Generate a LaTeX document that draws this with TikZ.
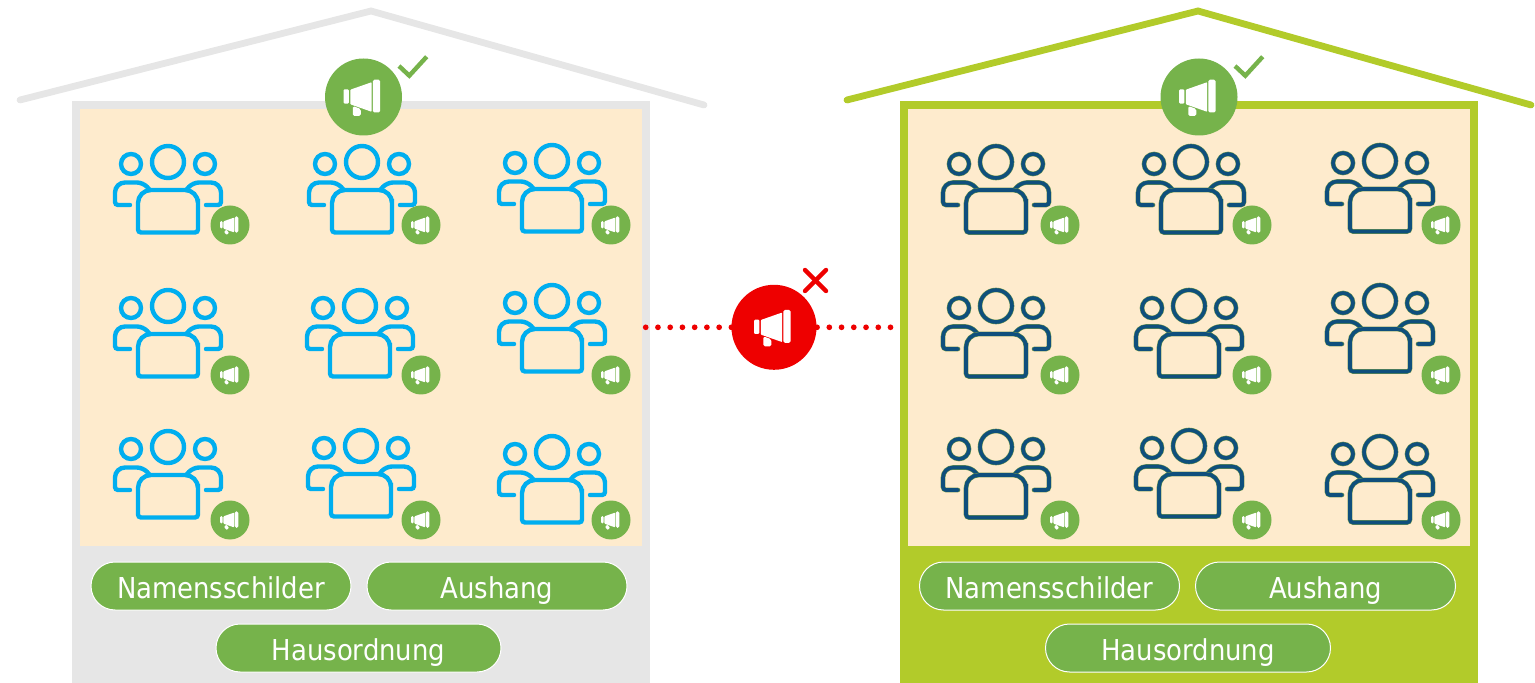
\documentclass[tikz,border=0pt]{standalone}
\usepackage{fontspec}
\setmainfont{DejaVu Sans Condensed}
\definecolor{grayhouse}{HTML}{E6E6E6}
\definecolor{greenhouse}{HTML}{B2CB2A}
\definecolor{cream}{HTML}{FEEBCD}
\definecolor{badgegreen}{HTML}{76B34B}
\definecolor{alertred}{HTML}{EE0000}
\definecolor{peopleblue}{HTML}{00AEEF}
\definecolor{peopledark}{HTML}{0F4F7C}
\tikzset{
    wall/.style={draw=none,minimum width=289pt,minimum height=291pt,anchor=north west,inner sep=0pt},
    inner/.style={fill=cream,draw=none,minimum width=281pt,minimum height=218.5pt,anchor=north west,inner sep=0pt},
    roof/.style={line width=3.4pt,line cap=round,line join=miter},
    badge/.style={circle,fill=badgegreen,minimum size=#1,inner sep=0pt},
    tag/.style={draw=white,line width=.5pt,fill=badgegreen,text=white,rounded corners=12pt,minimum height=24pt,inner sep=0pt,text height=12pt,text depth=0pt,font=\fontsize{14.4}{16}\selectfont},
    blueline/.style={draw=peopleblue,line width=2.2pt},
    darkline/.style={draw=greenhouse!55!peopledark,line width=.25pt,double=peopledark,double distance=1.8pt},
    megaphone/.pic={
        \fill[white,rounded corners=.6pt](-20,-7.7)rectangle(-14.6,6.7);
        \fill[white,rounded corners=.4pt](-13.2,-7.3)--(8.2,-14.8)--(8.2,14.8)--(-13.2,7.3)--cycle;
        \fill[white,rounded corners=.8pt](9.3,-17.3)rectangle(16.7,15.5);
        \fill[white,rounded corners=.8pt](-10.7,9)--(-2.7,12)--(-2.7,19)--(-10.7,19)--cycle;
    },
    people/.pic={
        \draw[pic actions](0,0)circle[radius=16];
        \draw[pic actions](-37,2)circle[radius=10];
        \draw[pic actions](37,2)circle[radius=10];
        \draw[pic actions,line cap=round](-38,43)[rounded corners=1.5pt]--(-53,43)[rounded corners=5pt]--(-53,20.5)[rounded corners=3pt]--(-25,20.5)--(-19,27);
        \draw[pic actions,line cap=round](38,43)[rounded corners=1.5pt]--(53,43)[rounded corners=5pt]--(53,20.5)[rounded corners=3pt]--(25,20.5)--(19,27);
        \draw[pic actions](-30,50)[rounded corners=6.5pt]--(-30,28)--(30,28)--(30,50)[rounded corners=1.5pt]--(30,70.5)--(-30,70.5)--cycle;
    }
}
\begin{document}
\begin{tikzpicture}[x=.5pt,y=-.5pt]
    \useasboundingbox(0,0)rectangle(1535,683);
    % gray house
    \node[wall,fill=grayhouse](wallA)at(72,101){};
    \node[inner](innerA)at(80,109){};
    \draw[roof,grayhouse](20,100)--(371,11)--(704,105);
    % green house
    \node[wall,fill=greenhouse](wallB)at(900,101){};
    \node[inner](innerB)at(908,109){};
    \draw[roof,greenhouse](847,100)--(1198,11)--(1531,105);
    % residents
    \foreach \x/\y/\bx/\by[count=\i] in {168/162/230/225,362/162/421/225,552/161/611/225,168/306/230/375,360/306/421/375,552/301/611/375,168/447/230/520,361/446/421/520,552/452/611/520}{
        \pic[blueline]at(\x,\y){people};
        \node[badge=19.5pt](smallA\i)at(\bx,\by){};
        \pic[scale=.5]at(smallA\i){megaphone};
    }
    \foreach \x/\y/\bx/\by[count=\i] in {996/162/1060/225,1191/162/1252/225,1380/161/1441/225,996/306/1060/375,1189/306/1252/375,1380/301/1441/375,996/447/1060/520,1189/446/1252/520,1380/452/1441/520}{
        \pic[darkline]at(\x,\y){people};
        \node[badge=19.5pt](smallB\i)at(\bx,\by){};
        \pic[scale=.5]at(smallB\i){megaphone};
    }
    % big badges
    \node[badge=38.5pt](bigA)at(363.5,97){};
    \pic at(bigA){megaphone};
    \draw[badgegreen,line width=2.2pt](399,66)--(409.3,75.7)--(426.7,56.7);
    \node[badge=38.5pt](bigB)at(1199,97){};
    \pic at(bigB){megaphone};
    \draw[badgegreen,line width=2.2pt](1235,66)--(1245.3,75.7)--(1262.7,56.7);
    % blocked message
    \coordinate(lineA)at(645.7,327.3);
    \coordinate(lineB)at(891,327.3);
    \draw[alertred,line width=2.85pt,line cap=round,dash pattern=on 0pt off 6.12pt](lineA)--(lineB);
    \node[badge=42.5pt,fill=alertred](alert)at(774,327.3){};
    \pic at(alert){megaphone};
    \draw[alertred,line width=2.2pt,line cap=round](805,270)--(826,291);
    \draw[alertred,line width=2.2pt,line cap=round](826,270)--(805,291);
    % labels
    \node[tag,minimum width=130pt](nameA)at(221,586){Namensschilder};
    \node[tag,minimum width=130pt](noticeA)at(497,586){Aushang};
    \node[tag,minimum width=142.5pt](rulesA)at(358.5,648){Hausordnung};
    \node[tag,minimum width=130pt](nameB)at(1049.5,586){Namensschilder};
    \node[tag,minimum width=130pt](noticeB)at(1325.5,586){Aushang};
    \node[tag,minimum width=142.5pt](rulesB)at(1188,648){Hausordnung};
\end{tikzpicture}
\end{document}
